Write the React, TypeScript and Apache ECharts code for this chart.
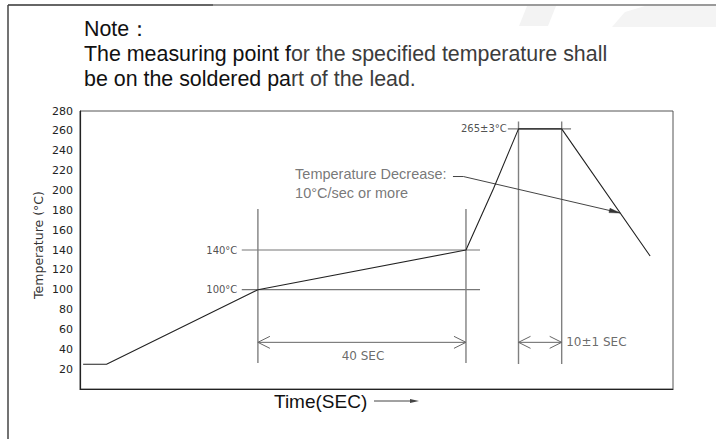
import React, { useEffect, useRef } from "react";
import * as echarts from "echarts";

// Reflow profile (schematic), time in seconds, temperature in °C
const timeSec = [0.6, 5.1, 34.2, 74.2, 79.5, 84.3, 92.6, 109.6];
const tempC = [25, 25, 100, 140, 202, 262, 262, 134];

// y axis ticks
const yTicks = [0, 20, 40, 60, 80, 100, 120, 140, 160, 180, 200, 220, 240, 260, 280];

// reference (guide) lines: [x1, y1, x2, y2]
const guide140 = [31.1, 140, 76.9, 140];
const guide100 = [31.1, 100, 76.9, 100];
const guidePeak = [82.25, 262, 94.4, 262];
const vPreheatStart = [34.2, 26.3, 34.2, 181.2];
const vPreheatEnd = [74.2, 26.3, 74.2, 181.2];
const vPeakStart = [84.3, 25.3, 84.3, 269.3];
const vPeakEnd = [92.6, 25.3, 92.6, 269.3];
const dim40 = [34.2, 47, 74.2, 47];
const dim10 = [84.3, 47, 92.6, 47];
const leaderX = [71.7, 73.7, 103.85];
const leaderY = [214, 214, 177.3];

// annotation texts and anchors
const annoText = ["140°C", "100°C", "265±3°C", "40 SEC", "10±1 SEC", "Temperature Decrease:\n10°C/sec or more"];
const annoX = [30.25, 30.25, 82.05, 54.4, 93.46, 41.35];
const annoY = [140, 100, 262, 33.2, 47, 206.8];

const noteLines = [
  ["Note：", ""],
  ["The measuring point f", "or the specified temperature shall"],
  ["be on the soldered pa", "rt of the lead."],
];

export default function App() {
  const ref = useRef<HTMLDivElement>(null);

  useEffect(() => {
    document.body.style.margin = "0";
    if (!ref.current) return;
    const chart = echarts.init(ref.current, null, { renderer: "svg" });

    const seg = (name: string, s: number[], color: string, width: number) => ({
      type: "line",
      name,
      data: [
        [s[0], s[1]],
        [s[2], s[3]],
      ],
      symbol: "none",
      lineStyle: { color, width },
      silent: true,
      z: 2,
    });

    const annoAlign = ["right", "right", "right", "center", "left", "left"];
    const annoSize = [10, 10, 10, 12, 12, 14.5];
    const annoFont = ["DejaVu Sans", "DejaVu Sans", "DejaVu Sans", "DejaVu Sans", "DejaVu Sans", "Liberation Sans"];
    const annoColor = ["#222", "#222", "#222", "#444", "#444", "#555"];

    // arrowheads: [tailX, tailY, tipX, tipY, filled]
    const arrowData = [
      [dim40[2], dim40[3], dim40[0], dim40[1], 0],
      [dim40[0], dim40[1], dim40[2], dim40[3], 0],
      [dim10[2], dim10[3], dim10[0], dim10[1], 0],
      [dim10[0], dim10[1], dim10[2], dim10[3], 0],
      [leaderX[1], leaderY[1], leaderX[2], leaderY[2], 1],
    ];

    const noteFont = '"Liberation Sans", Arial, sans-serif';
    const noteY = [29, 53.5, 79];
    const noteSize = 21.4;

    const option: any = {
      animation: false,
      backgroundColor: "#fff",
      grid: { left: 80, top: 111, right: 43, bottom: 50, show: true, borderColor: "#555", borderWidth: 1 },
      xAxis: {
        type: "value",
        min: 0,
        max: 114,
        axisLine: { show: true, lineStyle: { color: "#222", width: 1.2 } },
        axisTick: { show: false },
        axisLabel: { show: false },
        splitLine: { show: false },
      },
      yAxis: {
        type: "value",
        min: yTicks[0],
        max: yTicks[yTicks.length - 1],
        interval: 20,
        axisLine: { show: true, lineStyle: { color: "#222", width: 1.2 } },
        axisTick: { show: false },
        splitLine: { show: false },
        axisLabel: {
          margin: 7,
          color: "#222",
          fontSize: 11,
          fontFamily: "DejaVu Sans",
          formatter: (v: number) => (v === 0 ? "" : String(v)),
        },
      },
      series: [
        seg("g140", guide140, "#777", 1.2),
        seg("g100", guide100, "#777", 1.2),
        seg("gPeak", guidePeak, "#777", 1.2),
        seg("v1", vPreheatStart, "#808080", 1.4),
        seg("v2", vPreheatEnd, "#808080", 1.4),
        seg("v3", vPeakStart, "#808080", 1.4),
        seg("v4", vPeakEnd, "#808080", 1.4),
        seg("d40", dim40, "#666", 1),
        seg("d10", dim10, "#666", 1),
        {
          type: "line",
          name: "leader",
          data: leaderX.map((x, i) => [x, leaderY[i]]),
          symbol: "none",
          lineStyle: { color: "#444", width: 1 },
          silent: true,
          z: 3,
        },
        {
          type: "line",
          name: "profile",
          data: timeSec.map((t, i) => [t, tempC[i]]),
          symbol: "none",
          lineStyle: { color: "#222", width: 1.1 },
          silent: true,
          z: 4,
        },
        {
          type: "custom",
          name: "arrows",
          silent: true,
          z: 5,
          data: arrowData,
          encode: { x: [0, 2], y: [1, 3] },
          renderItem: (params: any, api: any) => {
            const p0 = api.coord([api.value(0), api.value(1)]);
            const p1 = api.coord([api.value(2), api.value(3)]);
            const filled = api.value(4) === 1;
            const dx = p1[0] - p0[0];
            const dy = p1[1] - p0[1];
            const len = Math.sqrt(dx * dx + dy * dy) || 1;
            const ux = dx / len;
            const uy = dy / len;
            const nx = -uy;
            const ny = ux;
            const L = filled ? 11 : 12;
            const W = filled ? 2.2 : 6;
            const a = [p1[0] - L * ux + W * nx, p1[1] - L * uy + W * ny];
            const b = [p1[0] - L * ux - W * nx, p1[1] - L * uy - W * ny];
            if (filled) {
              return { type: "polygon", shape: { points: [p1, a, b] }, style: { fill: "#333", stroke: "#333", lineWidth: 0.5 } };
            }
            return { type: "polyline", shape: { points: [a, p1, b] }, style: { fill: "none", stroke: "#666", lineWidth: 1 } };
          },
        },
        {
          type: "scatter",
          name: "labels",
          silent: true,
          symbolSize: 1,
          itemStyle: { color: "rgba(0,0,0,0)" },
          z: 6,
          data: annoText.map((t, i) => ({
            value: [annoX[i], annoY[i]],
            label: {
              show: true,
              position: "inside",
              formatter: t,
              align: annoAlign[i],
              verticalAlign: "middle",
              fontSize: annoSize[i],
              fontFamily: annoFont[i],
              color: annoColor[i],
              lineHeight: i === 5 ? 19 : undefined,
            },
          })),
        },
      ],
      graphic: [
        { type: "polygon", shape: { points: [[527, 6], [556, 6], [548, 26], [519, 26]] }, style: { fill: "#f3f3f3" }, silent: true },
        { type: "polygon", shape: { points: [[612, 27], [625, 12], [645, 6], [716, 6], [716, 27]] }, style: { fill: "#f4f4f4" }, silent: true },
        { type: "line", shape: { x1: 8, y1: 5, x2: 213, y2: 5 }, style: { stroke: "#666", lineWidth: 2 } },
        { type: "line", shape: { x1: 213, y1: 5, x2: 716, y2: 5 }, style: { stroke: "#9a9a9a", lineWidth: 2 } },
        { type: "line", shape: { x1: 8, y1: 5, x2: 8, y2: 439 }, style: { stroke: "#444", lineWidth: 1.5 } },
        ...noteLines.map((ln, i) => ({
          type: "text",
          x: 84,
          y: noteY[i],
          style: {
            text: ln[1] ? `{a|${ln[0]}}{b|${ln[1]}}` : `{a|${ln[0]}}`,
            verticalAlign: "middle",
            align: "left",
            rich: {
              a: { fill: "#111", fontSize: noteSize, fontFamily: noteFont },
              b: { fill: "#3c3c3c", fontSize: noteSize, fontFamily: noteFont },
            },
          },
        })),
        {
          type: "text",
          x: 38,
          y: 245,
          rotation: Math.PI / 2,
          style: {
            text: "Temperature (°C)",
            fontSize: 12.5,
            fontFamily: "DejaVu Sans",
            fill: "#333",
            align: "center",
            verticalAlign: "middle",
          },
        },
        {
          type: "text",
          x: 274,
          y: 401,
          style: {
            text: "Time(SEC)",
            fontSize: 19,
            fontFamily: noteFont,
            fill: "#111",
            align: "left",
            verticalAlign: "middle",
          },
        },
        { type: "line", shape: { x1: 374, y1: 401, x2: 412, y2: 401 }, style: { stroke: "#444", lineWidth: 1 } },
        { type: "polygon", shape: { points: [[410, 399], [419, 401], [410, 403]] }, style: { fill: "#444" } },
      ],
    };

    chart.setOption(option);
    return () => chart.dispose();
  }, []);

  return <div ref={ref} style={{ width: 716, height: 439, background: "#fff" }} />;
}
